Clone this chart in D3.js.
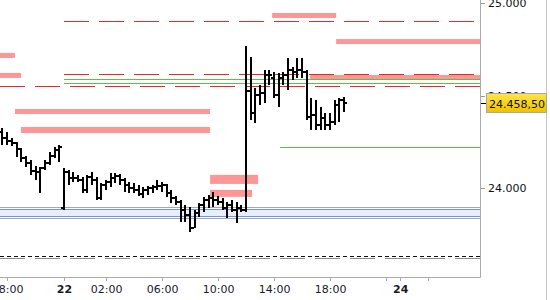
<!DOCTYPE html>
<html>
<head>
<meta charset="utf-8">
<script src="https://cdn.jsdelivr.net/npm/d3@7"></script>
<style>
  body { margin: 0; background: #fff; }
  text { font-family: "DejaVu Sans", sans-serif; }
</style>
</head>
<body>
<script>
// sessions: start hour (hours since day 21 00:00) and number of 20-minute bars
var sessionStart = [17 + 40 / 60, 23];
var sessionBars = [13, 61];

// OHLC values, in bar order
var opens = [24302, 24270, 24254, 24243, 24211, 24162, 24135, 24092, 24086, 24108, 24135, 24173, 24205,
  23892, 24086, 24054, 24054, 24043, 23989, 24059, 24043, 23946, 24016, 24032, 24054, 24065, 24043, 24016,
  24000, 23989, 23968, 23989, 24000, 24005, 24011, 24016, 23973, 23946, 23924, 23881, 23854, 23784, 23865,
  23908, 23935, 23946, 23935, 23924, 23892, 23908, 23881, 23892, 23881, 24524, 24405, 24503, 24513, 24611,
  24594, 24503, 24594, 24611, 24638, 24627, 24638, 24627, 24384, 24394, 24341, 24378, 24341, 24357, 24449, 24476];
var highs = [24324, 24302, 24270, 24248, 24216, 24173, 24151, 24119, 24113, 24151, 24194, 24221, 24232,
  24108, 24097, 24086, 24070, 24059, 24070, 24086, 24059, 24027, 24043, 24081, 24081, 24076, 24054, 24032,
  24027, 24016, 24005, 24011, 24016, 24043, 24032, 24022, 23989, 23957, 23935, 23908, 23897, 23881, 23919,
  23951, 23962, 23978, 23957, 23946, 23924, 23935, 23924, 23908, 24767, 24708, 24540, 24557, 24638, 24638,
  24627, 24621, 24627, 24703, 24654, 24703, 24703, 24638, 24486, 24476, 24438, 24405, 24405, 24476, 24486, 24492];
var lows = [24232, 24232, 24227, 24167, 24140, 24113, 24070, 24043, 23973, 24097, 24124, 24162, 24140,
  23881, 24016, 24032, 24032, 23973, 23973, 24016, 23935, 23935, 23989, 24005, 24027, 24016, 23978, 23973,
  23973, 23957, 23946, 23962, 23973, 23989, 23978, 23951, 23919, 23908, 23816, 23816, 23762, 23784, 23843,
  23870, 23892, 23897, 23908, 23881, 23838, 23870, 23811, 23870, 23870, 24368, 24351, 24449, 24459, 24557,
  24486, 24438, 24557, 24530, 24584, 24594, 24594, 24368, 24313, 24313, 24313, 24313, 24313, 24341, 24357, 24411];
var closes = [24270, 24254, 24243, 24211, 24162, 24135, 24092, 24086, 24108, 24135, 24173, 24205, 24221,
  24086, 24054, 24054, 24043, 23989, 24059, 24043, 23946, 24016, 24032, 24054, 24065, 24043, 24016, 24000,
  23989, 23968, 23989, 24000, 24005, 24011, 24016, 23973, 23946, 23924, 23881, 23854, 23784, 23865, 23908,
  23935, 23946, 23935, 23924, 23892, 23908, 23881, 23892, 23881, 24524, 24405, 24503, 24513, 24611, 24611,
  24503, 24594, 24611, 24638, 24627, 24638, 24627, 24384, 24394, 24341, 24378, 24341, 24357, 24449, 24476, 24458.5];
var lastPrice = 24458.5;

// horizontal levels
var redLevels = [24903, 24616, 24552];
var redFrom = [22, 22, 17.5];
var greenLevels = [24589, 24568, 24222];
var greenFrom = [22, 22, 38.43];
var bandOuter = [23896, 23837];
var bandInner = [23886, 23848];
var blackDashLevel = 23635;
var grayDashLevel = 23621;

// pink zones
var zoneTop = [24946, 24805, 24730, 24622, 24427, 24330, 24611, 24071, 23990];
var zoneBottom = [24919, 24778, 24703, 24595, 24400, 24297, 24589, 24022, 23952];
var zoneFrom = [37.86, 42.43, 17.5, 17.5, 18.55, 18.98, 40.57, 33.43, 33.43];
var zoneTo = [42.43, 52.7, 18.55, 18.98, 33.43, 33.43, 52.7, 36.86, 36.43];

// axes
var priceTicks = [24000, 24500, 25000];
var timeTicks = [18, 22, 26, 30, 34, 38, 42, 46, 47, 49];
var timeLabels = ["18:00", "22", "02:00", "06:00", "10:00", "14:00", "18:00", "", "24", ""];
var dayTicks = ["22", "24"];

var w = 550, h = 300;
var plotRight = 480, plotBottom = 277;

var svg = d3.select("body").append("svg")
  .attr("width", w)
  .attr("height", h);

var loc = d3.formatLocale({ decimal: ",", thousands: ".", grouping: [3], currency: ["", ""] });

// hour 22-23 is the closed gap, so it is squeezed out
var x = d3.scaleLinear()
  .domain([17.5, 22, 23, 52.7])
  .range([0, 64, 64, plotRight]);
var y = d3.scaleLinear()
  .domain([24000, 25000])
  .range([188, 3]);

function py(p) { return Math.round(y(p)) + 0.5; }

var bars = [];
sessionStart.forEach(function(s, si) {
  for (var i = 0; i < sessionBars[si]; i++) {
    var k = bars.length;
    bars.push({ t: s + i / 3, o: opens[k], h: highs[k], l: lows[k], c: closes[k] });
  }
});

svg.append("defs").append("clipPath").attr("id", "plot")
  .append("rect").attr("x", 0).attr("y", 0).attr("width", plotRight).attr("height", plotBottom);

var plot = svg.append("g").attr("clip-path", "url(#plot)");

// zones
plot.selectAll("rect.zone")
  .data(zoneTop)
  .enter()
  .append("rect")
  .attr("class", "zone")
  .attr("x", function(d, i) { return x(zoneFrom[i]); })
  .attr("width", function(d, i) { return x(zoneTo[i]) - x(zoneFrom[i]); })
  .attr("y", function(d) { return y(d); })
  .attr("height", function(d, i) { return y(zoneBottom[i]) - y(d); })
  .attr("fill", "#fd9797");

// blue band
plot.append("rect")
  .attr("x", 0).attr("width", plotRight)
  .attr("y", py(bandInner[0]))
  .attr("height", py(bandInner[1]) - py(bandInner[0]))
  .attr("fill", "#e8eefc");

function hline(p, from, color, dash) {
  plot.append("line")
    .attr("x1", x(from)).attr("x2", plotRight)
    .attr("y1", py(p)).attr("y2", py(p))
    .attr("stroke", color)
    .attr("stroke-width", 1)
    .attr("stroke-dasharray", dash)
    .attr("shape-rendering", "crispEdges");
}

bandOuter.forEach(function(p) { hline(p, 17.5, "#a8a8a8", null); });
bandInner.forEach(function(p) { hline(p, 17.5, "#6b98e6", null); });
redLevels.forEach(function(p, i) { hline(p, redFrom[i], "#e42a2a", "25,10"); });
greenLevels.forEach(function(p, i) { hline(p, greenFrom[i], "#5dbf4c", null); });
hline(grayDashLevel, 17.5, "#8c8c8c", "25,10");
hline(blackDashLevel, 17.5, "#111", "4,3");

// OHLC bars
var g = plot.selectAll("g.bar")
  .data(bars)
  .enter()
  .append("g")
  .attr("class", "bar")
  .attr("shape-rendering", "crispEdges");

g.append("rect")
  .attr("x", function(d) { return Math.round(x(d.t)) - 1; })
  .attr("width", 2)
  .attr("y", function(d) { return Math.round(y(d.h)); })
  .attr("height", function(d) { return Math.max(2, Math.round(y(d.l)) - Math.round(y(d.h))); })
  .attr("fill", "#000");
g.append("rect")
  .attr("x", function(d) { return Math.round(x(d.t)) - 3; })
  .attr("width", 2)
  .attr("y", function(d) { return Math.round(y(d.o)) - 1; })
  .attr("height", 2)
  .attr("fill", "#000");
g.append("rect")
  .attr("x", function(d) { return Math.round(x(d.t)) + 1; })
  .attr("width", 2)
  .attr("y", function(d) { return Math.round(y(d.c)) - 1; })
  .attr("height", 2)
  .attr("fill", "#000");

// right price axis
var yAxis = svg.append("g")
  .attr("transform", "translate(" + plotRight + ",0)")
  .call(d3.axisRight(y).tickValues(priceTicks).tickFormat(loc.format(",.0f")).tickSize(5).tickPadding(3));
yAxis.select(".domain").remove();
yAxis.selectAll("line").attr("stroke", "#999").attr("shape-rendering", "crispEdges");
yAxis.selectAll("text").attr("font-size", 11).attr("fill", "#111").attr("font-family", "DejaVu Sans, sans-serif");

// bottom time axis
var xAxis = svg.append("g")
  .attr("transform", "translate(0," + plotBottom + ")")
  .call(d3.axisBottom(x).tickValues(timeTicks)
    .tickFormat(function(d, i) { return timeLabels[i]; })
    .tickSize(4).tickPadding(4));
xAxis.select(".domain").remove();
xAxis.selectAll("line").attr("stroke", "#aaa").attr("shape-rendering", "crispEdges");
xAxis.selectAll("text")
  .attr("font-size", 11)
  .attr("fill", "#1a1a2a")
  .attr("font-family", "DejaVu Sans, sans-serif")
  .attr("font-weight", function(d, i) { return dayTicks.indexOf(timeLabels[i]) >= 0 ? "bold" : "normal"; });

// frame lines
svg.append("line")
  .attr("x1", 0).attr("x2", plotRight + 0.5)
  .attr("y1", plotBottom + 0.5).attr("y2", plotBottom + 0.5)
  .attr("stroke", "#aaa");
svg.append("line")
  .attr("x1", plotRight + 0.5).attr("x2", plotRight + 0.5)
  .attr("y1", 0).attr("y2", plotBottom + 0.5)
  .attr("stroke", "#aaa");
svg.append("line")
  .attr("x1", 546.5).attr("x2", 546.5)
  .attr("y1", 0).attr("y2", h)
  .attr("stroke", "#c8c8c8");

// last price marker
var grad = svg.select("defs").append("linearGradient")
  .attr("id", "gold").attr("x1", 0).attr("y1", 0).attr("x2", 0).attr("y2", 1);
grad.append("stop").attr("offset", "0%").attr("stop-color", "#ffe645");
grad.append("stop").attr("offset", "100%").attr("stop-color", "#f0c000");

var ly = Math.round(y(lastPrice));
svg.append("line")
  .attr("x1", plotRight + 1).attr("x2", plotRight + 6)
  .attr("y1", ly + 0.5).attr("y2", ly + 0.5)
  .attr("stroke", "#000");
svg.append("rect")
  .attr("x", 486.5).attr("y", ly - 9.5)
  .attr("width", 60).attr("height", 19)
  .attr("fill", "url(#gold)")
  .attr("stroke", "#a8a8a8");
svg.append("text")
  .attr("x", 489).attr("y", ly + 1)
  .attr("dy", "0.35em")
  .attr("font-size", 11)
  .attr("fill", "#111")
  .text(loc.format(",.2f")(lastPrice));
</script>
</body>
</html>
